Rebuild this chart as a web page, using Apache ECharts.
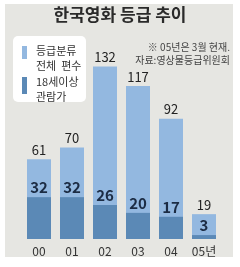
<!DOCTYPE html>
<html><head><meta charset="utf-8">
<script src="https://cdn.jsdelivr.net/npm/echarts@6/dist/echarts.min.js"></script>
<style>html,body{margin:0;padding:0;background:#fff}#c{width:240px;height:267px}</style>
</head><body><div id="c"></div>
<script>
const categories = ['00','01','02','03','04','05년'];
const totalFilms = [61,70,132,117,92,19];
const adultFilms = [32,32,26,20,17,3];
const title = '한국영화 등급 추이';
const legendTotal = ['등급분류','전체  편수'];
const legendAdult = ['18세이상','관람가'];
const notes = ['※ 05년은 3월 현재.','자료:영상물등급위원회'];

const FONT = '"Noto Sans CJK KR", "Noto Sans", sans-serif';
const chart = echarts.init(document.getElementById('c'));
chart.setOption({
  backgroundColor: '#ffffff',
  animation: false,
  graphic: [
    {type:'rect', shape:{x:5,y:4,width:228,height:253}, style:{fill:'#e6e6e2'}, z:-10},
    {type:'text', left:'center', top:6, style:{text:title, font:'bold 17px '+FONT, fill:'#2a2a2a'}},
    {type:'rect', shape:{x:13,y:36,width:73,height:66,r:5}, style:{fill:'#ffffff'}},
    {type:'rect', shape:{x:22,y:46,width:5,height:13}, style:{fill:'#93b8e0'}},
    {type:'rect', shape:{x:22,y:77,width:5,height:17}, style:{fill:'#5b89b6'}},
    {type:'text', x:36, y:43, style:{text:legendTotal.join('\n'), font:'11px '+FONT, lineHeight:15, fill:'#333'}},
    {type:'text', x:36, y:74, style:{text:legendAdult.join('\n'), font:'11px '+FONT, lineHeight:15, fill:'#333'}},
    {type:'text', right:10, y:41, style:{text:notes.join('\n'), font:'10px '+FONT, lineHeight:13, fill:'#444', align:'right'}}
  ],
  grid: {left:22.5, right:19.5, top:56, bottom:28},
  xAxis: {type:'category', data:categories, axisLine:{show:false}, axisTick:{show:false},
    axisLabel:{margin:6, fontSize:12, color:'#333', fontFamily:FONT}},
  yAxis: {type:'value', min:0, max:140, show:false, splitLine:{show:false}},
  series: [
    {type:'bar', data:totalFilms, barWidth:24, barGap:'-100%', itemStyle:{color:'#93b8e0'},
     label:{show:true, position:'top', distance:3, fontSize:13, color:'#222', fontFamily:FONT}},
    {type:'bar', data:adultFilms, barWidth:24, itemStyle:{color:'#5b89b6'},
     label:{show:true, position:'top', distance:2, fontSize:15, fontWeight:'bold', color:'#1c2c44', fontFamily:FONT}}
  ]
});
</script></body></html>
